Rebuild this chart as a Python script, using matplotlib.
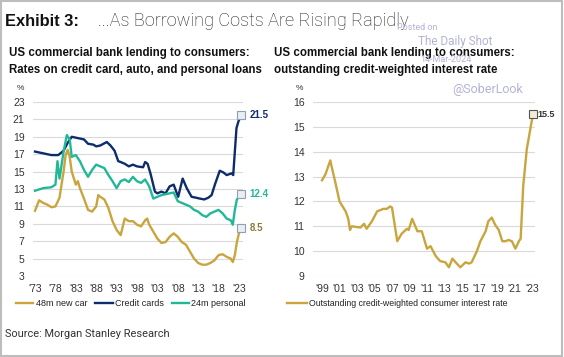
import matplotlib
matplotlib.use("Agg")
import matplotlib.pyplot as plt
from matplotlib.patches import Rectangle

plt.rcParams['font.family'] = ['Liberation Sans Narrow', 'Liberation Sans', 'DejaVu Sans']

# ---------------- data ----------------
card_years = [1973, 1975, 1977, 1978.7, 1980, 1981, 1982, 1984, 1985, 1986, 1987.3, 1988,
              1989, 1990.6, 1991.5, 1992.5, 1993.4, 1994, 1995, 1996, 1997, 1998, 1999.5,
              2000, 2000.6, 2001.3, 2002.4, 2003, 2004, 2005, 2006, 2007, 2008.1, 2009.2,
              2010.2, 2011.4, 2012.5, 2013.4, 2014.5, 2015.5, 2016.3, 2017.1, 2018.3,
              2019.2, 2020, 2020.6, 2021.2, 2021.6, 2022, 2022.4, 2022.9, 2023.6]
card_vals = [17.3, 17.1, 16.9, 16.9, 17.4, 18.3, 19.0, 18.8, 18.7, 18.2, 18.1, 17.9,
             18.0, 18.4, 18.0, 17.4, 16.2, 16.1, 15.9, 15.6, 15.8, 15.6, 15.5,
             16.1, 15.9, 14.8, 12.7, 12.5, 12.7, 12.5, 13.3, 13.5, 12.1, 14.2,
             13.1, 12.1, 12.0, 11.9, 11.8, 12.0, 12.3, 13.5, 15.1,
             14.9, 14.6, 14.7, 14.8, 14.6, 17.3, 20.0, 20.8, 21.5]

pers_years = [1973, 1975, 1977, 1978, 1978.5, 1979, 1980, 1980.8, 1981.5, 1982, 1983, 1984,
              1985, 1986, 1987, 1988, 1989, 1990, 1991, 1992, 1993, 1994, 1995, 1996,
              1997, 1998, 1999, 2000, 2001, 2002, 2003, 2004, 2005, 2006, 2007, 2008,
              2009, 2010, 2011, 2012, 2013, 2014, 2015, 2016, 2017, 2018, 2019, 2020,
              2021, 2021.5, 2022, 2022.5, 2023.6]
pers_vals = [12.8, 13.1, 13.2, 13.5, 16.2, 14.2, 17.3, 19.2, 18.7, 16.7, 16.9, 16.2,
             15.2, 14.4, 15.2, 15.8, 15.6, 15.4, 14.6, 13.9, 13.1, 13.9, 14.1, 13.8,
             14.4, 13.9, 13.7, 14.1, 13.3, 11.9, 12.1, 12.3, 12.4, 12.5, 12.6, 11.6,
             11.4, 11.2, 11.0, 10.6, 10.4, 10.0, 9.8, 10.2, 10.4, 10.6, 10.2, 9.6,
             9.4, 8.9, 10.6, 11.8, 12.4]

car_years = [1973, 1974, 1975, 1976, 1977, 1978, 1979, 1979.5, 1980, 1980.5, 1981, 1981.5,
             1982, 1983, 1983.5, 1984, 1985, 1986, 1987, 1988, 1988.5, 1989, 1990, 1991,
             1992, 1993, 1994, 1995, 1996, 1997, 1998, 1999, 2000, 2000.5, 2001, 2002,
             2003, 2004, 2005, 2006, 2007, 2008, 2009, 2010, 2011, 2012, 2013, 2014,
             2015, 2016, 2017, 2018, 2019, 2020, 2021, 2021.5, 2022, 2022.5, 2023, 2023.6]
car_vals = [10.5, 11.7, 11.4, 11.2, 10.9, 11.0, 12.0, 13.5, 15.0, 16.9, 17.5, 16.7,
            15.0, 13.5, 13.9, 13.1, 11.9, 10.6, 10.4, 11.0, 12.3, 12.1, 11.8, 10.8,
            9.3, 8.3, 7.7, 9.6, 9.3, 9.3, 8.9, 8.7, 9.4, 9.6, 8.9, 8.1,
            7.3, 6.8, 6.9, 7.5, 7.9, 7.5, 6.9, 6.6, 5.8, 5.0, 4.5, 4.3,
            4.3, 4.5, 4.8, 5.4, 5.5, 5.2, 5.0, 4.6, 5.4, 6.9, 7.9, 8.5]

out_years = [1999, 1999.4, 1999.95, 2000.1, 2000.5, 2001, 2001.7, 2002, 2002.2, 2002.4,
             2003.4, 2003.8, 2004.1, 2004.7, 2005.3, 2006, 2006.4, 2006.8, 2007.0, 2007.6,
             2008.1, 2008.7, 2008.9, 2009.3, 2009.9, 2010.4, 2011, 2011.4, 2012, 2012.5,
             2013.1, 2013.5, 2013.9, 2014.4, 2014.8, 2015.4, 2015.8, 2016.1, 2016.7, 2017.1,
             2017.7, 2018, 2018.4, 2018.8, 2019.2, 2019.6, 2020, 2020.3, 2020.7, 2021.1,
             2021.5, 2021.7, 2022, 2022.4, 2022.6, 2023, 2023.1]
out_vals = [12.85, 13.1, 13.65, 13.4, 12.8, 12.0, 11.6, 11.3, 10.85, 11.0,
            10.95, 11.1, 10.9, 11.2, 11.6, 11.7, 11.7, 11.8, 11.75, 10.4,
            10.7, 10.9, 10.85, 11.3, 10.8, 10.8, 10.1, 10.2, 9.8, 9.6,
            9.55, 9.35, 9.7, 9.5, 9.35, 9.55, 9.5, 9.55, 10.0, 10.4,
            10.8, 11.2, 11.35, 11.05, 10.85, 10.4, 10.4, 10.45, 10.4, 10.1,
            10.4, 10.5, 12.65, 14.1, 14.5, 15.3, 15.5]

left_ticks = [1973, 1978, 1983, 1988, 1993, 1998, 2003, 2008, 2013, 2018, 2023]
left_labels = ["'73", "'78", "'83", "'88", "'93", "'98", "'03", "'08", "'13", "'18", "'23"]
right_ticks = [1999, 2001, 2003, 2005, 2007, 2009, 2011, 2013, 2015, 2017, 2019, 2021, 2023]
right_labels = ["'99", "'01", "'03", "'05", "'07", "'09", "'11", "'13", "'15", "'17", "'19", "'21", "'23"]

GOLD = '#C9A53E'
NAVY = '#0D2C6C'
TEAL = '#22B897'
GRID = '#d9d9d9'
TICKC = '#333333'

W, H = 564, 357
fig = plt.figure(figsize=(W / 100, H / 100), dpi=100)
fig.patch.set_facecolor('white')

def fx(px):
    return px / W

def fy(py):
    return 1 - py / H

axL = fig.add_axes([fx(33), fy(276), fx(243) - fx(33), fy(102) - fy(276)])
axR = fig.add_axes([fx(313), fy(276), fx(535) - fx(313), fy(102) - fy(276)])

for ax in (axL, axR):
    for s in ax.spines.values():
        s.set_visible(False)
    ax.tick_params(length=0, labelsize=7.5, colors=TICKC, pad=6)
    ax.grid(axis='y', color=GRID, lw=0.8)
    ax.set_axisbelow(True)

lc, = axL.plot(car_years, car_vals, color=GOLD, lw=1.7, label='48m new car')
lk, = axL.plot(card_years, card_vals, color=NAVY, lw=1.7, label='Credit cards')
lp, = axL.plot(pers_years, pers_vals, color=TEAL, lw=1.7, label='24m personal')
axL.set_xlim(1972.5, 2024.0)
axL.set_ylim(3, 23)
axL.set_yticks(range(3, 24, 2))
axL.set_xticks(left_ticks)
axL.set_xticklabels(left_labels)

for yrs, vals, col in ((card_years, card_vals, NAVY), (pers_years, pers_vals, TEAL), (car_years, car_vals, '#8a7a3a')):
    axL.plot(yrs[-1], vals[-1], marker='s', ms=6, mfc='#e8eef2', mec='#8fa0b0', mew=0.8,
             clip_on=False, zorder=5)
    axL.annotate(f"{vals[-1]:.1f}", (yrs[-1], vals[-1]), xytext=(6, 0), textcoords='offset points',
                 va='center', ha='left', fontsize=7, fontweight='bold', color=col, annotation_clip=False)

lo, = axR.plot(out_years, out_vals, color=GOLD, lw=1.7,
               label='Outstanding credit-weighted consumer interest rate')
axR.set_xlim(1997.97, 2023.34)
axR.set_ylim(9, 16)
axR.set_yticks(range(9, 17))
axR.set_xticks(right_ticks)
axR.set_xticklabels(right_labels)
axR.plot(out_years[-1], out_vals[-1], marker='s', ms=5.5, mfc='#f3ecd4', mec='#555555', mew=0.8,
         clip_on=False, zorder=5)
axR.annotate(f"{out_vals[-1]:.1f}", (out_years[-1], out_vals[-1]), xytext=(3.5, 0),
             textcoords='offset points', va='center', ha='left', fontsize=6.5,
             fontweight='bold', color='#333333', annotation_clip=False)

fig.text(fx(20), fy(88), '%', fontsize=6, color=TICKC, ha='center', va='center')
fig.text(fx(299), fy(88), '%', fontsize=6, color=TICKC, ha='center', va='center')

fig.legend(handles=[lc, lk, lp], loc='center', bbox_to_anchor=(fx(131), fy(304)), ncol=3,
           frameon=False, fontsize=6.5, handlelength=1.9, handletextpad=0.25, columnspacing=0.9,
           labelcolor='#222222')
fig.legend(handles=[lo], loc='center', bbox_to_anchor=(fx(397), fy(304)), ncol=1,
           frameon=False, fontsize=6.3, handlelength=2.3, handletextpad=0.25, labelcolor='#222222')

fig.text(fx(5), fy(21), 'Exhibit 3:', fontsize=11.8, fontweight='bold', color='#111111',
         va='center', ha='left', family=['Liberation Sans', 'DejaVu Sans'])
fig.text(fx(98), fy(21), '...As Borrowing Costs Are Rising Rapidly', fontsize=13.1,
         fontweight='light', color='#222222', va='center', ha='left', family=['Roboto', 'DejaVu Sans'])
fig.text(fx(9), fy(53), 'US commercial bank lending to consumers:', fontsize=8.3, fontweight='bold',
         color='#111111', va='center', ha='left', family=['Liberation Sans', 'DejaVu Sans'])
fig.text(fx(9), fy(70), 'Rates on credit card, auto, and personal loans', fontsize=8.3, fontweight='bold',
         color='#111111', va='center', ha='left', family=['Liberation Sans', 'DejaVu Sans'])
fig.text(fx(274), fy(53), 'US commercial bank lending to consumers:', fontsize=8.3, fontweight='bold',
         color='#111111', va='center', ha='left', family=['Liberation Sans', 'DejaVu Sans'])
fig.text(fx(274), fy(70), 'outstanding credit-weighted interest rate', fontsize=8.3, fontweight='bold',
         color='#111111', va='center', ha='left', family=['Liberation Sans', 'DejaVu Sans'])

WM = '#b3b3d6'
fig.text(fx(397), fy(27), 'Posted on', fontsize=6.5, color=WM, va='center', ha='left',
         family=['Roboto', 'DejaVu Sans'])
fig.text(fx(418), fy(42), 'The Daily Shot', fontsize=8.5, color=WM, va='center', ha='left',
         family=['Roboto', 'DejaVu Sans'])
fig.text(fx(420), fy(60), '14-Mar-2024', fontsize=6.5, color=WM, va='center', ha='left',
         family=['Roboto', 'DejaVu Sans'])
fig.text(fx(452), fy(90), '@SoberLook', fontsize=9, color=WM, va='center', ha='left',
         family=['Roboto', 'DejaVu Sans'])

fig.text(fx(5), fy(334), 'Source: Morgan Stanley Research', fontsize=7.9, color='#333333',
         va='center', ha='left', family=['Roboto', 'DejaVu Sans'])

fig.patches.append(Rectangle((0.002, 0.003), 0.994, 0.994, transform=fig.transFigure,
                             fill=False, ec='#bdbdbd', lw=1.5))

fig.savefig('out.png', dpi=100, facecolor='white')
